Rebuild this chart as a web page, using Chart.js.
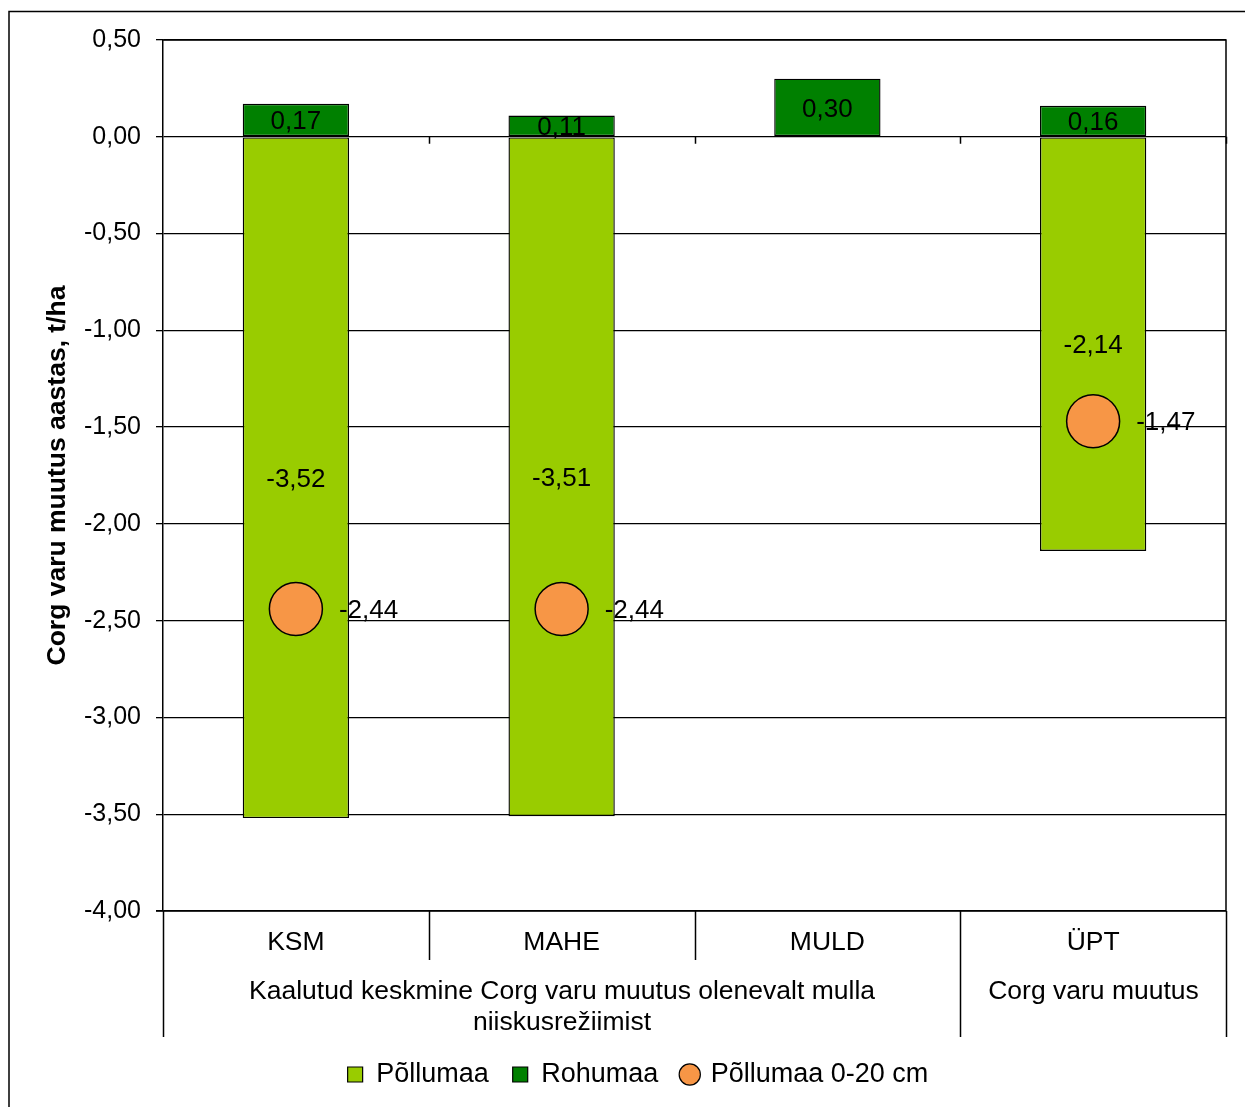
<!DOCTYPE html>
<html>
<head>
<meta charset="utf-8">
<script src="https://cdn.jsdelivr.net/npm/chart.js@4/dist/chart.umd.min.js"></script>
<style>
  html, body { margin: 0; padding: 0; background: #fff; }
  canvas { display: block; }
</style>
</head>
<body>
<canvas id="chart" width="1245" height="1107"></canvas>
<script>
// categories and groups
const categories = ['KSM', 'MAHE', 'MULD', 'ÜPT'];
const groups = [
  { lines: ['Kaalutud keskmine Corg varu muutus olenevalt mulla', 'niiskusrežiimist'], from: 0, to: 2 },
  { lines: ['Corg varu muutus'], from: 3, to: 3 }
];

// series values (t/ha)
const pollumaa = [-3.52, -3.51, null, -2.14];
const rohumaa = [0.17, 0.11, 0.30, 0.16];
const pollumaa020 = [-2.44, -2.44, null, -1.47];

// y axis ticks
const yMin = -4.0;
const yMax = 0.5;
const yStep = 0.5;

const FONT = "'Liberation Sans', Arial, sans-serif";

const fmt = v => v.toFixed(2).replace('.', ',');

// draws the outer frame, plot border, multi-level category axis and data labels
const extras = {
  id: 'extras',
  afterLayout(chart) {
    // legend sits a bit right of the canvas centre in the original
    if (chart.legend) {
      chart.legend.left += 25;
      chart.legend.right += 25;
    }
  },
  afterDraw(chart) {
    const ctx = chart.ctx;
    const area = chart.chartArea;
    const x = chart.scales.x;
    const y = chart.scales.y;
    const n = categories.length;
    const w = (area.right - area.left) / n;
    const edge = i => Math.round(area.left + i * w) + 0.5;

    ctx.save();
    ctx.strokeStyle = '#000';
    ctx.lineWidth = 1.5;

    // outer frame (right and bottom fall outside the picture)
    ctx.beginPath();
    ctx.moveTo(9, 1107);
    ctx.lineTo(9, 11.5);
    ctx.lineTo(1245, 11.5);
    ctx.stroke();

    // plot border top and right
    ctx.beginPath();
    ctx.moveTo(area.left, area.top);
    ctx.lineTo(area.right, area.top);
    ctx.lineTo(area.right, area.bottom);
    ctx.stroke();

    // bottom axis line
    ctx.beginPath();
    ctx.moveTo(area.left - 7, area.bottom);
    ctx.lineTo(area.right, area.bottom);
    ctx.stroke();

    // small ticks on the zero line
    const y0 = y.getPixelForValue(0);
    ctx.beginPath();
    for (let i = 1; i <= n; i++) {
      ctx.moveTo(edge(i), y0);
      ctx.lineTo(edge(i), y0 + 7);
    }
    ctx.stroke();

    // category separators
    const catBottom = area.bottom + 49;
    const grpBottom = area.bottom + 126;
    ctx.beginPath();
    for (let i = 0; i <= n; i++) {
      const isGroupEdge = groups.some(g => g.from === i || g.to + 1 === i);
      ctx.moveTo(edge(i), area.bottom);
      ctx.lineTo(edge(i), isGroupEdge ? grpBottom : catBottom);
    }
    ctx.stroke();

    ctx.fillStyle = '#000';
    ctx.font = '26.5px ' + FONT;
    ctx.textAlign = 'center';
    ctx.textBaseline = 'middle';
    categories.forEach((c, i) => {
      ctx.fillText(c, x.getPixelForValue(i), area.bottom + 32);
    });
    groups.forEach(g => {
      const cx = (edge(g.from) + edge(g.to + 1)) / 2;
      g.lines.forEach((t, k) => {
        ctx.fillText(t, cx, area.bottom + 81 + k * 31);
      });
    });

    // data labels
    ctx.font = '26px ' + FONT;
    chart.data.datasets.forEach((ds, di) => {
      const meta = chart.getDatasetMeta(di);
      meta.data.forEach((el, i) => {
        const v = ds.data[i];
        if (v === null || v === undefined) return;
        if (ds.type === 'line') {
          ctx.textAlign = 'left';
          ctx.fillText(fmt(v), el.x + 43, el.y + 2);
        } else {
          ctx.textAlign = 'center';
          ctx.fillText(fmt(v), el.x, (el.y + el.base) / 2 + 2);
        }
      });
    });
    ctx.restore();
  }
};

const legendStyles = ['rect', 'rect', 'circle'];

new Chart(document.getElementById('chart'), {
  type: 'bar',
  data: {
    labels: categories,
    datasets: [
      {
        label: 'Põllumaa',
        data: pollumaa,
        backgroundColor: '#99CC00',
        borderColor: '#000',
        borderWidth: 1.4,
        borderSkipped: false,
        stack: 'bars',
        categoryPercentage: 0.4,
        barPercentage: 1.0,
        order: 2
      },
      {
        label: 'Rohumaa',
        data: rohumaa,
        backgroundColor: '#008000',
        borderColor: '#000',
        borderWidth: 1.4,
        borderSkipped: false,
        stack: 'bars',
        categoryPercentage: 0.4,
        barPercentage: 1.0,
        order: 2
      },
      {
        type: 'line',
        label: 'Põllumaa 0-20 cm',
        data: pollumaa020,
        showLine: false,
        stack: 'points',
        pointRadius: 26.5,
        pointHoverRadius: 26.5,
        pointBackgroundColor: '#F79646',
        pointBorderColor: '#000',
        pointBorderWidth: 1.5,
        backgroundColor: '#F79646',
        borderColor: '#000',
        borderWidth: 1.5,
        order: 1
      }
    ]
  },
  options: {
    responsive: false,
    animation: false,
    devicePixelRatio: 1,
    layout: { autoPadding: false, padding: { left: 0, top: 40, right: 19, bottom: 9 } },
    scales: {
      x: {
        stacked: true,
        grid: { display: false },
        border: { display: false },
        ticks: { display: false },
        afterFit: s => { s.height = 126; }
      },
      y: {
        stacked: true,
        min: yMin,
        max: yMax,
        afterFit: s => { s.width = 163; },
        ticks: {
          stepSize: yStep,
          color: '#000',
          padding: 15,
          font: { family: FONT, size: 25 },
          callback: v => fmt(v)
        },
        grid: { color: '#000', lineWidth: 1.3, tickLength: 7, tickColor: '#000' },
        border: { color: '#000', width: 1.5 },
        title: {
          display: true,
          text: 'Corg varu muutus aastas, t/ha',
          color: '#000',
          padding: { top: 42, bottom: 0 },
          font: { family: FONT, size: 26.5, weight: 'bold' }
        }
      }
    },
    plugins: {
      tooltip: { enabled: false },
      legend: {
        position: 'bottom',
        labels: {
          color: '#000',
          font: { family: FONT, size: 27 },
          usePointStyle: true,
          boxWidth: 15,
          boxHeight: 15,
          padding: 24,
          sort: (a, b) => a.datasetIndex - b.datasetIndex,
          generateLabels: chart => {
            const items = Chart.defaults.plugins.legend.labels.generateLabels(chart);
            items.forEach(it => {
              it.pointStyle = legendStyles[it.datasetIndex];
              it.lineWidth = 1.2;
              it.strokeStyle = '#000';
            });
            return items;
          }
        }
      }
    }
  },
  plugins: [extras]
});
</script>
</body>
</html>
